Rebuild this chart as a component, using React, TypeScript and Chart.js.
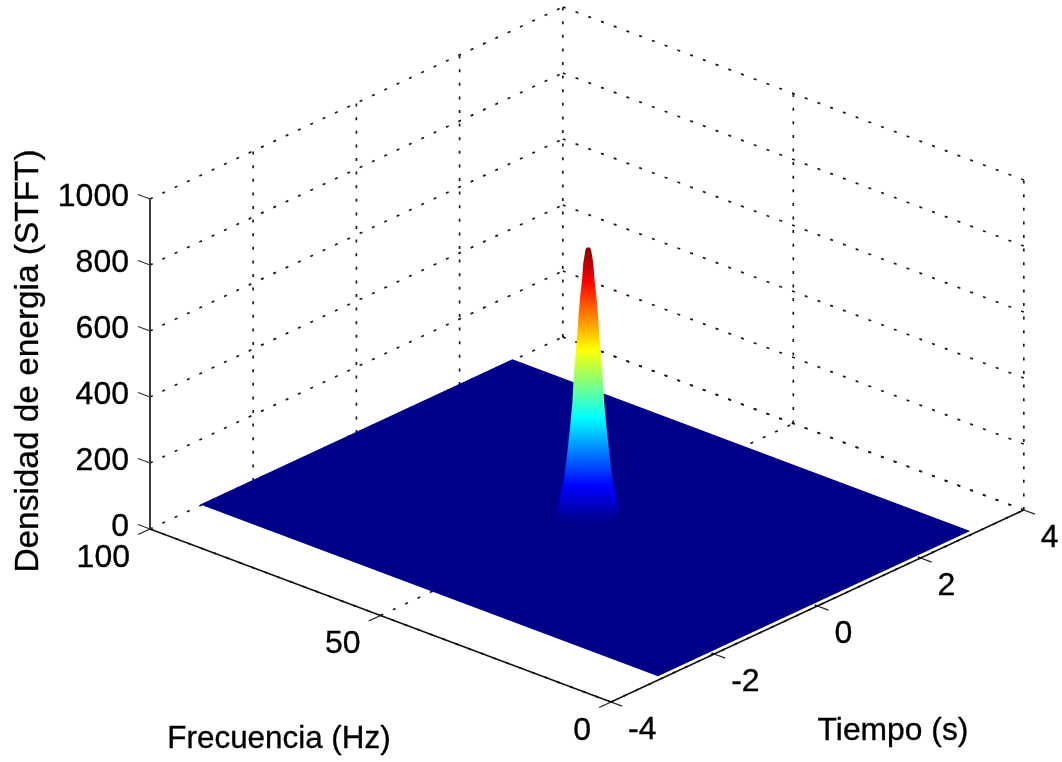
import React, { useEffect, useRef } from "react";
import { Chart, registerables } from "chart.js";

Chart.register(...registerables);

const timeTicks = [-4, -2, 0, 2, 4];
const freqTicks = [0, 50, 100];
const energyTicks = [0, 200, 400, 600, 800, 1000];

const surfaceTime = [-3, 3.05];
const surfaceFreq = [1, 100.3];

const peakTime = 0;
const peakFreq = 49.7;
const peakEnergy = [826, 820, 779, 727, 676, 615, 545, 476, 415, 355, 273, 191, 121, 70, 21];
const peakHalfTime = [0.012, 0.024, 0.043, 0.054, 0.071, 0.085, 0.099, 0.116, 0.129, 0.138, 0.16, 0.186, 0.212, 0.246, 0.272];
const peakHalfFreq = [0.17, 0.33, 0.6, 0.75, 0.98, 1.18, 1.37, 1.61, 1.79, 1.91, 2.22, 2.58, 2.94, 3.41, 3.77];
const baseOffsetTime = [-0.254, -0.242, -0.161, -0.031, 0.162];
const baseOffsetFreq = [2.37, -0.11, -1.81, -3.04, -3.4];

const jetStops = [0, 0.125, 0.375, 0.625, 0.875, 1];
const jetColors = ["#000090", "#0000ff", "#00ffff", "#ffff00", "#ff0000", "#800000"];

const xTitle = "Tiempo (s)";
const yTitle = "Frecuencia (Hz)";
const zTitle = "Densidad de energia (STFT)";

// Orthographic view of MATLAB's default 3-D box.
const project = (t: number, f: number, z: number) => ({
  x: 611 + (t + 4) * 51.6 - f * 4.61,
  y: 702 - (t + 4) * 24 - f * 1.73 - z * 0.33,
});

const seg = (a: number[], b: number[]) => [project(a[0], a[1], a[2]), project(b[0], b[1], b[2])];

const line = (data: any[], style: any) => ({
  data,
  showLine: true,
  pointRadius: 0,
  borderCapStyle: "butt",
  ...style,
});
const dotted = (a: number[], b: number[]) =>
  line(seg(a, b), { borderColor: "#1a1a1a", borderWidth: 1.7, borderDash: [3, 10.6] });
const solid = (a: number[], b: number[], color = "#111111", width = 1.5) =>
  line(seg(a, b), { borderColor: color, borderWidth: width });

const buildDatasets = () => {
  const tMin = timeTicks[0];
  const tMax = timeTicks[timeTicks.length - 1];
  const fMin = freqTicks[0];
  const fMax = freqTicks[freqTicks.length - 1];
  const zMax = energyTicks[energyTicks.length - 1];
  const out: any[] = [];

  // First dataset is painted last: axes, peak, surface, then grid behind.
  out.push(solid([tMin, fMax, 0], [tMin, fMax, zMax], "#333333", 1.9));
  out.push(solid([tMin, fMax, 0], [tMin, fMin, 0]));
  out.push(solid([tMin, fMin, 0], [tMax, fMin, 0]));
  energyTicks.forEach((z) => out.push(solid([tMin, fMax, z], [tMin, fMax + 2.6, z], "#333333", 1.3)));
  freqTicks.forEach((f) => out.push(solid([tMin, f, 0], [tMin - 0.23, f, 0], "#222222", 1.3)));
  timeTicks.forEach((t) => out.push(solid([t, fMin, 0], [t, fMin - 2.4, 0], "#222222", 1.3)));

  const left = peakEnergy.map((z, i) =>
    project(peakTime - peakHalfTime[i], peakFreq + peakHalfFreq[i], z)
  );
  const right = peakEnergy
    .map((z, i) => project(peakTime + peakHalfTime[i], peakFreq - peakHalfFreq[i], z))
    .reverse();
  const base = baseOffsetTime.map((dt, i) =>
    project(peakTime + dt, peakFreq + baseOffsetFreq[i], 0)
  );
  out.push({
    data: [...left, ...base, ...right],
    showLine: false,
    pointRadius: 0,
    polygon: "jet",
  });

  const [s0, s1] = surfaceTime;
  const [f0, f1] = surfaceFreq;
  out.push({
    data: [project(s0, f0, 0), project(s1, f0, 0), project(s1, f1, 0), project(s0, f1, 0)],
    showLine: false,
    pointRadius: 0,
    polygon: "#000088",
  });

  // Back walls and floor grid.
  energyTicks.forEach((z) => {
    out.push(dotted([tMin, fMax, z], [tMax, fMax, z]));
    out.push(dotted([tMax, fMax, z], [tMax, fMin, z]));
  });
  timeTicks.forEach((t) => {
    if (t > tMin) out.push(dotted([t, fMax, 0], [t, fMax, zMax]));
    out.push(dotted([t, fMin, 0], [t, fMax, 0]));
  });
  freqTicks.forEach((f) => {
    if (f < fMax) {
      out.push(dotted([tMax, f, 0], [tMax, f, zMax]));
      out.push(dotted([tMin, f, 0], [tMax, f, 0]));
    }
  });
  return out;
};

const polygonPlugin = {
  id: "polygonFill",
  afterDatasetDraw(chart: any, args: any) {
    const ds = chart.data.datasets[args.index];
    if (!ds.polygon) return;
    const pts = args.meta.data;
    const ctx = chart.ctx;
    let fill: any = ds.polygon;
    if (ds.polygon === "jet") {
      const yScale = chart.scales.y;
      const top = yScale.getPixelForValue(project(peakTime, peakFreq, peakEnergy[0]).y);
      const bottom = yScale.getPixelForValue(project(peakTime, peakFreq, 0).y);
      fill = ctx.createLinearGradient(0, bottom, 0, top);
      jetStops.forEach((s, i) => fill.addColorStop(s, jetColors[i]));
    }
    ctx.save();
    ctx.fillStyle = fill;
    ctx.beginPath();
    pts.forEach((p: any, i: number) => (i ? ctx.lineTo(p.x, p.y) : ctx.moveTo(p.x, p.y)));
    ctx.closePath();
    ctx.fill();
    ctx.restore();
  },
};

const textPlugin = {
  id: "axisText",
  afterDraw(chart: any) {
    const { ctx, scales } = chart;
    const px = (p: { x: number; y: number }) => ({
      x: scales.x.getPixelForValue(p.x),
      y: scales.y.getPixelForValue(p.y),
    });
    const tMin = timeTicks[0];
    const fMax = freqTicks[freqTicks.length - 1];
    const put = (s: string, x: number, y: number) => {
      ctx.fillText(s, x, y);
      ctx.strokeText(s, x, y);
    };
    ctx.save();
    ctx.fillStyle = "#000000";
    ctx.strokeStyle = "#000000";
    ctx.lineWidth = 0.35;
    ctx.textBaseline = "middle";
    ctx.font = '32px "Liberation Sans"';
    ctx.textAlign = "right";
    energyTicks.forEach((z) => {
      const p = px(project(tMin, fMax, z));
      put(String(z), p.x - 21, p.y - 1.5);
    });
    freqTicks.forEach((f) => {
      const p = px(project(tMin, f, 0));
      put(String(f), p.x - 20, p.y + 29);
    });
    ctx.textAlign = "left";
    timeTicks.forEach((t) => {
      const p = px(project(t, 0, 0));
      put(String(t), p.x + 17, p.y + 28.5);
    });
    ctx.textAlign = "center";
    ctx.font = '31.4px "Liberation Sans"';
    put(yTitle, 279, 739);
    ctx.font = '31.8px "Liberation Sans"';
    put(xTitle, 893, 731);
    ctx.translate(29, 361);
    ctx.rotate(-Math.PI / 2);
    ctx.font = '33.4px "Liberation Sans"';
    put(zTitle, 0, 0);
    ctx.restore();
  },
};

export default function App() {
  const ref = useRef<HTMLCanvasElement>(null);
  useEffect(() => {
    const chart = new Chart(ref.current as HTMLCanvasElement, {
      type: "scatter",
      data: { datasets: buildDatasets() },
      plugins: [polygonPlugin, textPlugin],
      options: {
        animation: false,
        responsive: false,
        layout: { padding: 0 },
        plugins: { legend: { display: false }, tooltip: { enabled: false } },
        scales: {
          x: { type: "linear", min: 0, max: 1062, display: false },
          y: { type: "linear", min: 0, max: 762, reverse: true, display: false },
        },
      },
    } as any);
    return () => chart.destroy();
  }, []);
  return (
    <div style={{ position: "absolute", left: 0, top: 0, width: 1062, height: 762, overflow: "hidden", background: "#fff" }}>
      <canvas ref={ref} width={1062} height={762} style={{ display: "block" }} />
    </div>
  );
}
